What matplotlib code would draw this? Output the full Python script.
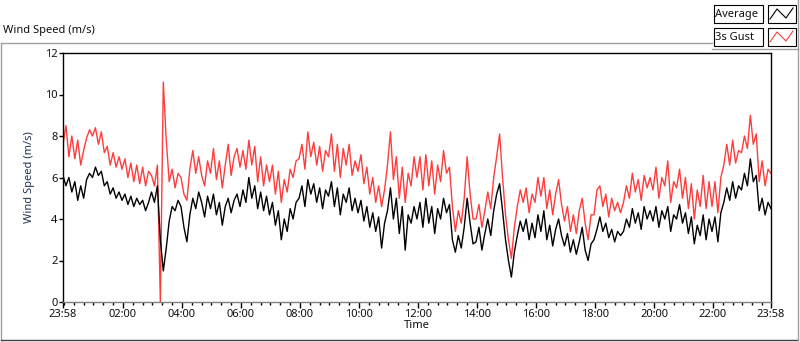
import matplotlib
matplotlib.use("Agg")
import matplotlib.pyplot as plt
import numpy as np
from matplotlib.patches import Rectangle
from matplotlib.lines import Line2D

plt.rcParams['font.family'] = ['Noto Sans', 'DejaVu Sans']

# sampling every 6 minutes starting at 23:58, one row per hour
step_min = 6
start_clock = 23 * 60 + 58

average = [
    6.1, 5.6, 6.0, 5.3, 5.8, 4.9, 5.6, 5.0, 5.9, 6.2,
    6.0, 6.5, 6.1, 6.3, 5.6, 5.8, 5.2, 5.5, 5.0, 5.3,
    4.9, 5.2, 4.7, 5.1, 4.6, 5.0, 4.7, 4.9, 4.4, 4.8,
    5.3, 4.8, 5.6, 3.0, 1.5, 2.6, 3.9, 4.6, 4.4, 4.9,
    4.6, 3.6, 2.9, 4.2, 5.0, 4.5, 5.3, 4.8, 4.1, 5.1,
    4.5, 5.2, 4.2, 4.8, 3.7, 4.6, 5.0, 4.3, 4.9, 5.2,
    4.6, 5.4, 4.8, 6.0, 5.0, 5.6, 4.5, 5.3, 4.4, 5.1,
    4.2, 4.8, 3.7, 4.4, 3.0, 4.0, 3.4, 4.5, 4.0, 4.8,
    5.0, 5.6, 4.6, 5.9, 5.2, 5.7, 4.8, 5.5, 4.5, 5.4,
    5.1, 5.8, 4.6, 5.5, 4.2, 5.2, 4.8, 5.5, 4.4, 5.0,
    4.3, 4.9, 3.9, 4.6, 3.6, 4.3, 3.4, 4.1, 2.6, 3.8,
    4.4, 5.5, 4.0, 5.0, 3.3, 4.6, 2.5, 4.2, 3.8, 4.6,
    4.0, 4.8, 3.6, 5.0, 3.8, 4.6, 3.3, 4.5, 4.0, 5.0,
    4.3, 4.7, 3.0, 2.4, 3.2, 2.6, 3.6, 5.0, 3.8, 2.8,
    2.9, 3.6, 2.5, 3.3, 4.0, 3.2, 4.4, 5.2, 5.7, 4.4,
    3.0, 2.0, 1.2, 2.4, 3.2, 3.9, 3.4, 4.0, 3.0, 3.8,
    3.1, 4.2, 3.4, 4.4, 3.0, 3.7, 2.7, 3.5, 4.0, 3.2,
    2.7, 3.3, 2.4, 3.0, 2.3, 2.9, 3.6, 2.5, 2.0, 2.8,
    3.0, 3.5, 4.1, 3.4, 3.8, 3.1, 3.5, 2.9, 3.4, 3.2,
    3.4, 4.0, 3.6, 4.5, 3.8, 4.3, 3.5, 4.6, 4.0, 4.4,
    3.9, 4.6, 3.6, 4.4, 4.0, 4.6, 3.4, 4.2, 4.0, 4.7,
    3.8, 4.3, 3.3, 4.1, 2.8, 3.7, 3.2, 4.2, 3.0, 4.0,
    3.4, 4.1, 2.9, 4.3, 4.8, 5.5, 4.9, 5.8, 5.0, 5.6,
    5.4, 6.2, 5.6, 6.9, 5.8, 6.1, 4.4, 5.0, 4.2, 4.8,
    4.5,
]

gust = [
    7.6, 8.5, 7.0, 8.0, 6.9, 7.8, 6.6, 7.3, 7.9, 8.3,
    8.0, 8.4, 7.6, 8.2, 7.2, 7.5, 6.6, 7.2, 6.5, 7.0,
    6.4, 6.9, 6.0, 6.7, 5.8, 6.6, 5.7, 6.5, 5.6, 6.3,
    6.1, 5.6, 6.6, 0.0, 10.6, 7.8, 5.8, 6.4, 5.5, 6.2,
    6.0, 5.2, 4.9, 6.4, 7.3, 6.2, 7.0, 6.1, 5.6, 6.8,
    6.2, 7.4, 5.9, 6.8, 5.5, 6.6, 7.6, 6.1, 7.0, 7.4,
    6.5, 7.3, 6.4, 7.8, 6.6, 7.5, 5.8, 7.0, 5.6, 6.6,
    5.8, 6.6, 5.2, 6.3, 4.8, 5.9, 5.3, 6.4, 6.0, 6.8,
    6.9, 7.6, 6.4, 8.2, 7.0, 7.7, 6.6, 7.5, 6.3, 7.3,
    7.0, 8.1, 6.3, 7.6, 6.0, 7.4, 6.6, 7.6, 6.1, 6.8,
    6.3, 7.1, 5.7, 6.5, 5.2, 6.0, 4.8, 5.6, 4.6, 5.4,
    6.6, 8.2, 5.9, 7.0, 5.0, 6.5, 4.8, 6.2, 5.6, 7.0,
    6.0, 7.0, 5.4, 7.1, 5.6, 6.8, 5.2, 6.6, 5.8, 7.3,
    6.2, 6.5, 4.6, 3.4, 4.4, 3.8, 5.0, 7.0, 5.2, 4.0,
    4.0, 4.7, 3.6, 4.4, 5.3, 4.5, 6.0, 7.0, 8.1, 6.0,
    4.2, 3.0, 2.1, 3.6, 4.6, 5.4, 4.8, 5.5, 4.3, 5.2,
    4.8, 6.0, 5.1, 6.0, 4.5, 5.4, 4.2, 5.2, 5.9, 4.7,
    3.9, 4.6, 3.4, 4.2, 3.3, 4.4, 5.0, 3.8, 3.0, 4.2,
    4.2, 5.4, 5.6, 4.6, 5.2, 4.1, 5.0, 4.4, 4.8, 4.3,
    4.8, 5.6, 5.0, 6.2, 5.3, 5.9, 4.9, 6.1, 5.5, 6.0,
    5.4, 6.5, 5.0, 6.0, 5.6, 6.8, 4.8, 5.8, 5.5, 6.4,
    5.0, 6.0, 4.5, 5.7, 4.0, 5.4, 4.6, 6.1, 4.5, 5.8,
    4.6, 5.8, 4.3, 6.0, 6.6, 7.6, 6.6, 7.8, 6.7, 7.3,
    7.2, 8.0, 7.4, 9.0, 7.6, 8.1, 5.8, 6.8, 5.6, 6.4,
    6.2,
]

y_ticks = [0, 2, 4, 6, 8, 10, 12]
series_names = ["Average", "3s Gust"]
series_colors = ["black", "#ff3c3c"]

minutes = np.arange(len(average)) * step_min


def clock_label(m):
    t = (start_clock + int(m)) % 1440
    return f"{t // 60:02d}:{t % 60:02d}"


W, H = 800, 342
FS = 8
fig = plt.figure(figsize=(W / 100, H / 100), dpi=100)

# background decoration (panel frame, legend boxes) in pixel coordinates
bg = fig.add_axes([0, 0, 1, 1])
bg.set_xlim(0, W)
bg.set_ylim(H, 0)
bg.axis("off")
bg.add_line(Line2D([0.5, 712], [42.5, 42.5], color="#a0a0a0", lw=1))
bg.add_line(Line2D([0.5, 0.5], [42.5, 339.5], color="#a0a0a0", lw=1))
bg.add_line(Line2D([0.5, 797.5], [339.5, 339.5], color="#404040", lw=1))
bg.add_line(Line2D([797.5, 797.5], [48.5, 339.5], color="#a0a0a0", lw=1))
bg.add_line(Line2D([712, 797.5], [48.5, 48.5], color="#a0a0a0", lw=1))
bg.add_line(Line2D([797.5, 797.5], [0, 48.5], color="#a0a0a0", lw=1))
bg.text(3, 31, "Wind Speed (m/s)", fontsize=FS, va="center", ha="left", color="#101010")

for i, (name, col) in enumerate(zip(series_names, series_colors)):
    y0 = 4 + i * 23
    bg.add_patch(Rectangle((713.5, y0 + 0.5), 49, 18, fill=True, fc="white", ec="black", lw=0.8))
    bg.text(715, y0 + 10, name, fontsize=FS, va="center", ha="left", color="#101010")
    bg.add_patch(Rectangle((767.5, y0 + 0.5), 28, 18, fill=True, fc="white", ec="black", lw=0.8))
    bg.add_line(Line2D([770, 777, 786, 793], [y0 + 15, y0 + 5, y0 + 14, y0 + 4], color=col, lw=0.8))

ax = fig.add_axes([63 / W, 1 - 302 / H, 708 / W, 249 / H])
ax.plot(minutes, gust, color=series_colors[1], lw=1.0)
ax.plot(minutes, average, color=series_colors[0], lw=1.0)

ax.set_xlim(0, 1440)
ax.set_ylim(0, 12)
ax.set_yticks(y_ticks)
ax.set_yticklabels([str(v) for v in y_ticks])

major = [0] + [122 + 120 * k for k in range(11)] + [1440]
ax.set_xticks(major)
ax.set_xticklabels([clock_label(m) for m in major])
ax.set_xticks([m for m in range(2, 1440, 20) if m not in major], minor=True)

ax.tick_params(axis="both", which="major", labelsize=FS, length=4, width=1, colors="black",
               labelcolor="#101010", pad=1)
ax.tick_params(axis="x", which="minor", length=2.5, width=1, colors="black")
ax.tick_params(axis="y", which="major", length=3)

for s in ["left", "top", "right"]:
    ax.spines[s].set_color("black")
    ax.spines[s].set_linewidth(1)
ax.spines["bottom"].set_color("#808080")
ax.spines["bottom"].set_linewidth(1)

ax.set_xlabel("Time", fontsize=FS, color="#101010", labelpad=0)
ax.set_ylabel("Wind Speed (m/s)", fontsize=FS, color="#1f3350", labelpad=7)

fig.savefig("out.png", dpi=100)
